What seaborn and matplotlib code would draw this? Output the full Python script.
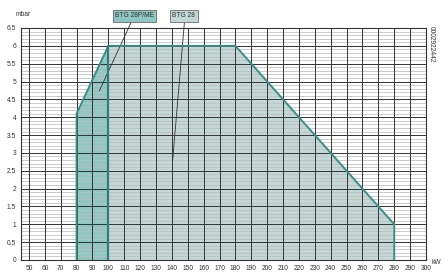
import numpy as np
import pandas as pd
import matplotlib
matplotlib.use("Agg")
import matplotlib.pyplot as plt
import seaborn as sns

# Data
btg28pme_kw = [80, 80, 100, 100]
btg28pme_mbar = [0, 4.1, 6.0, 0]
btg28_kw = [100, 100, 180, 280, 280]
btg28_mbar = [0, 6.0, 6.0, 1.0, 0]
x_ticks = list(range(50, 301, 10))
y_ticks = [0, 0.5, 1, 1.5, 2, 2.5, 3, 3.5, 4, 4.5, 5, 5.5, 6, 6.5]
labels = ["BTG 28P/ME", "BTG 28"]
doc_code = "0002922442"

sns.set_style("white")
plt.rcParams['font.family'] = ['Liberation Sans', 'DejaVu Sans']

fig = plt.figure(figsize=(4.48, 2.76), dpi=100)
ax = fig.add_axes([21/448, 16/276, 405/448, 232/276])

# fills
ax.fill(btg28_kw, btg28_mbar, color="#c3d8d6", zorder=1, lw=0)
ax.fill(btg28pme_kw, btg28pme_mbar, color="#8ec6c1", zorder=1, lw=0)

# grid
ax.set_xlim(45, 300)
ax.set_ylim(0, 6.5)
for yv in np.arange(0.1, 6.5, 0.1):
    if abs(yv * 2 - round(yv * 2)) > 1e-6:
        ax.axhline(yv, color="#bdbdbd", lw=0.55, zorder=2)
for yv in y_ticks:
    ax.axhline(yv, color="#333333", lw=0.7, zorder=3)
for xv in x_ticks:
    ax.axvline(xv, color="#333333", lw=0.7, zorder=3)

# outlines via seaborn
outline_kw = [80, 80, 100, 180, 280, 280]
outline_mb = [0, 4.1, 6.0, 6.0, 1.0, 0]
df = pd.DataFrame({"kw": outline_kw, "mbar": outline_mb})
sns.lineplot(data=df, x="kw", y="mbar", sort=False, estimator=None, color="#3b8f88",
             lw=1.4, ax=ax, zorder=4)
df2 = pd.DataFrame({"kw": [btg28pme_kw[-1], btg28pme_kw[-1]], "mbar": [0, 6.0]})
sns.lineplot(data=df2, x="kw", y="mbar", sort=False, estimator=None, color="#2f7f78",
             lw=1.6, ax=ax, zorder=4)

ax.set_xticks(x_ticks)
ax.set_xticklabels([str(v) for v in x_ticks], fontsize=4.8, color="#333333")
ax.set_yticks(y_ticks)
ax.set_yticklabels([("%g" % v) for v in y_ticks], fontsize=4.8, color="#333333")
ax.tick_params(axis="both", length=2, width=0.6, pad=1.5, color="#333333")
ax.set_xlabel("")
ax.set_ylabel("")
for s in ax.spines.values():
    s.set_color("#333333")
    s.set_linewidth(0.8)

# labels with leaders
ax.annotate("", xy=(93.6, 4.67), xytext=(115, 6.72), annotation_clip=False,
            arrowprops=dict(arrowstyle="-", color="#333333", lw=0.6))
ax.annotate("", xy=(140.3, 2.7), xytext=(148, 6.72), annotation_clip=False,
            arrowprops=dict(arrowstyle="-", color="#333333", lw=0.6))
ax.text(116.5, 6.84, labels[0], fontsize=4.8, ha="center", va="center", color="#333333",
        clip_on=False, zorder=6,
        bbox=dict(boxstyle="square,pad=0.35", fc="#8ec6c1", ec="#555555", lw=0.5))
ax.text(147.5, 6.84, labels[1], fontsize=4.8, ha="center", va="center", color="#333333",
        clip_on=False, zorder=6,
        bbox=dict(boxstyle="square,pad=0.35", fc="#c3d8d6", ec="#555555", lw=0.5))

fig.text(16/448, 1 - 14/276, "mbar", fontsize=4.8, ha="left", va="center", color="#333333")
fig.text(436/448, 1 - 262/276, "kW", fontsize=4.8, ha="center", va="center", color="#333333")
fig.text(431/448, 1 - 44/276, doc_code, fontsize=4.8, rotation=270, ha="center", va="center", color="#333333")

fig.savefig("out.png", dpi=100)
